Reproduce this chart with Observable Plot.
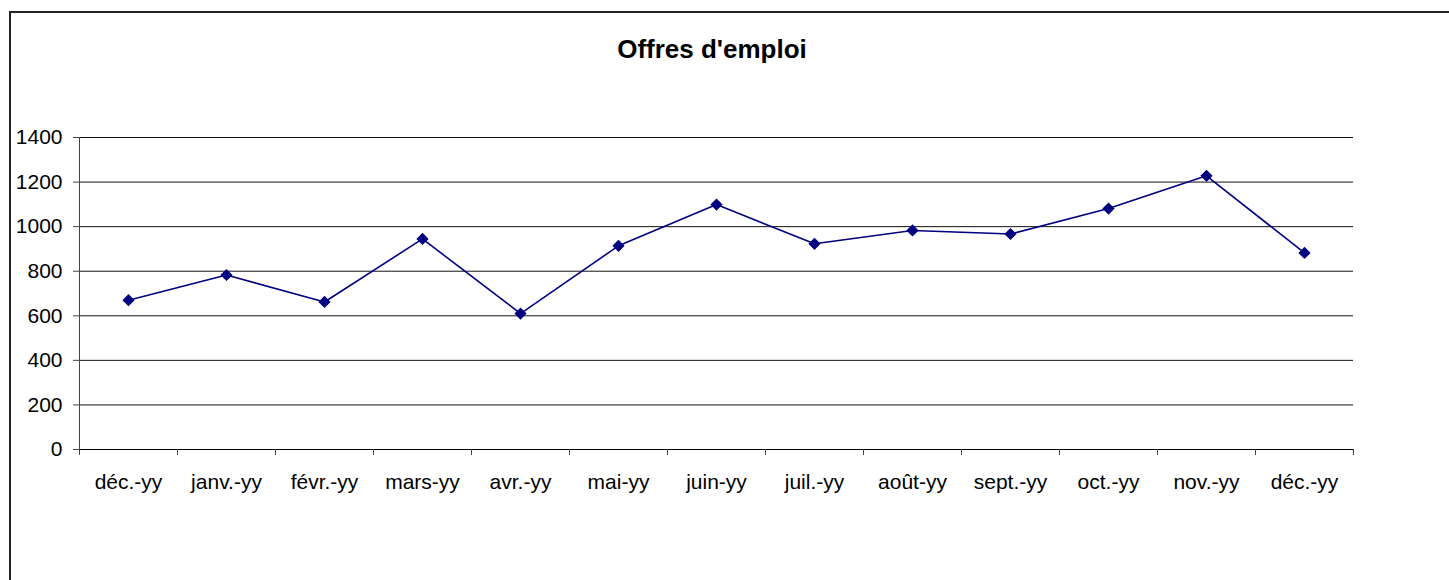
<!DOCTYPE html>
<html><head><meta charset="utf-8">
<script src="https://cdn.jsdelivr.net/npm/d3@7"></script>
<script src="https://cdn.jsdelivr.net/npm/@observablehq/plot@0.6"></script>
<style>
body{margin:0;background:#fff;}
#wrap{position:relative;width:1449px;height:580px;overflow:hidden;font-family:"Liberation Sans",Arial,sans-serif;background:#fff;}
#frame{position:absolute;left:9px;top:11px;width:1500px;height:600px;border-left:2px solid #222;border-top:2px solid #222;}
#title{position:absolute;left:0;top:36px;width:1424px;text-align:center;font-weight:bold;font-size:26px;line-height:26px;color:#000;}
#chart{position:absolute;left:0;top:80px;}
</style>
</head><body>
<div id="wrap"><div id="frame"></div><div id="title">Offres d'emploi</div><div id="chart"></div></div>
<script>
const categories = ["déc.-yy","janv.-yy","févr.-yy","mars-yy","avr.-yy","mai-yy","juin-yy","juil.-yy","août-yy","sept.-yy","oct.-yy","nov.-yy","déc.-yy"];
const values = [670, 783, 662, 945, 610, 914, 1099, 923, 983, 967, 1081, 1228, 882];
const yTicks = [0, 200, 400, 600, 800, 1000, 1200, 1400];

const data = values.map((v, i) => ({pos: i + 0.5, value: v, cat: categories[i]}));
const centers = categories.map((c, i) => i + 0.5);
const bounds = d3.range(categories.length + 1);

const chart = Plot.plot({
  width: 1449,
  height: 500,
  marginLeft: 79,
  marginRight: 96,
  marginTop: 57,
  marginBottom: 131,
  style: {fontFamily: "'Liberation Sans', Arial, sans-serif", fontSize: "21px", color: "#000", background: "transparent"},
  x: {type: "linear", domain: [0, categories.length]},
  y: {domain: [0, 1400]},
  marks: [
    Plot.gridY(yTicks, {stroke: "#111", strokeOpacity: 1}),
    Plot.ruleX([0], {y1: 0, y2: 1400, stroke: "#444"}),
    Plot.ruleY([0], {stroke: "#000"}),
    Plot.axisY(yTicks, {tickSize: 6, tickPadding: 11, label: null, tickFormat: d => String(d), stroke: "#444"}),
    Plot.axisX(bounds, {tickSize: 6, tickFormat: () => "", label: null, stroke: "#444"}),
    Plot.axisX(centers, {tickSize: 0, tickPadding: 25, label: null, tickFormat: d => categories[Math.floor(d)]}),
    Plot.line(data, {x: "pos", y: "value", stroke: "#000080", strokeWidth: 1.6}),
    Plot.dot(data, {x: "pos", y: "value", symbol: "diamond2", r: 5.5, fill: "#000080", stroke: "none"})
  ]
});
document.getElementById("chart").appendChild(chart);
</script>
</body></html>
